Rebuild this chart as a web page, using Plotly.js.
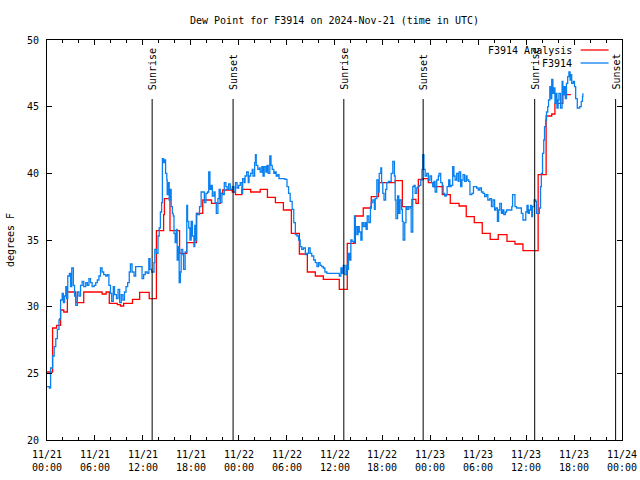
<!DOCTYPE html>
<html>
<head>
<meta charset="utf-8">
<script src="https://cdn.plot.ly/plotly-3.0.1.min.js"></script>
<style>html,body{margin:0;padding:0;background:#fff;}#chart{width:640px;height:480px;}</style>
</head>
<body>
<div id="chart"></div>
<script>
// ---- data (hours after 2024-11-21 00:00 UTC) ----
const obsHours = [0.0,0.3,0.45,0.7,0.9,1.1,1.3,1.5,1.6,1.7,1.9,2.05,2.2,2.35,2.45,2.6,2.8,2.95,3.1,3.3,3.45,3.6,3.8,4.0,4.2,4.4,4.6,4.85,5.05,5.25,5.45,5.65,5.9,6.1,6.3,6.5,6.7,6.9,7.1,7.35,7.55,7.75,7.95,8.1,8.3,8.45,8.7,8.9,9.1,9.3,9.5,9.7,9.9,10.1,10.3,10.45,10.65,10.9,11.1,11.3,11.5,11.7,11.9,12.1,12.3,12.55,12.75,12.9,13.1,13.4,13.5,13.7,13.9,14.05,14.2,14.35,14.45,14.6,14.7,14.85,15.0,15.05,15.2,15.3,15.4,15.55,15.7,15.8,15.9,16.05,16.2,16.3,16.4,16.55,16.7,16.8,17.0,17.1,17.3,17.5,17.6,17.75,17.9,18.05,18.2,18.4,18.5,18.6,18.75,18.9,19.1,19.3,19.5,19.7,19.9,20.1,20.25,20.4,20.55,20.7,20.9,21.05,21.2,21.4,21.55,21.7,21.9,22.05,22.2,22.4,22.55,22.75,22.95,23.2,23.4,23.6,23.8,24.0,24.2,24.4,24.5,24.7,24.8,25.0,25.2,25.3,25.5,25.7,25.8,26.0,26.1,26.2,26.4,26.6,26.7,26.9,27.05,27.2,27.4,27.55,27.7,27.9,28.05,28.2,28.4,28.55,28.7,28.9,29.05,29.8,30.05,30.25,30.45,30.7,30.9,31.1,31.3,31.5,31.7,31.9,32.1,32.35,32.5,32.75,32.95,33.15,33.4,33.6,33.8,34.0,34.2,34.4,34.6,34.8,35.05,36.5,36.6,36.8,36.95,37.1,37.3,37.5,37.6,37.75,37.9,38.05,38.2,38.4,38.5,38.6,38.8,38.95,39.1,39.3,39.45,39.6,39.8,39.96,40.1,40.3,40.5,40.6,40.8,41.0,41.1,41.3,41.5,41.6,41.8,41.9,42.05,42.2,42.4,42.55,42.75,42.95,43.1,43.3,43.5,43.6,43.7,43.9,44.05,44.2,44.4,44.5,44.6,44.8,44.95,45.1,45.3,45.5,45.6,45.8,45.95,46.1,46.3,46.45,46.6,46.8,46.96,47.05,47.2,47.35,47.55,47.75,47.95,48.15,48.3,48.45,48.6,48.8,49.0,49.1,49.3,49.5,49.6,49.8,50.0,50.1,50.3,50.45,50.6,50.8,50.95,51.1,51.3,51.5,51.6,51.8,51.95,52.1,52.3,52.5,52.6,52.8,52.96,53.2,53.4,53.6,53.8,54.0,54.2,54.4,54.6,54.8,55.0,55.2,55.45,55.65,55.85,56.05,56.2,56.4,56.55,56.7,56.9,57.05,57.2,57.4,57.55,58.2,58.3,58.5,58.6,58.8,59.4,59.6,59.95,60.1,60.25,60.4,60.55,60.7,60.8,61.0,61.2,61.3,61.65,61.8,61.9,62.05,62.2,62.3,62.45,62.55,62.7,62.8,62.96,63.1,63.2,63.35,63.5,63.6,63.7,63.85,64.0,64.1,64.3,64.5,64.6,64.75,64.9,65.05,65.2,65.35,65.5,65.6,65.7,65.9,66.05,66.2,66.4,66.55,66.7,66.9,67.05,67.1];
const obsDew = [24.0,23.9,25.4,26.3,27.0,27.6,28.3,29.0,29.1,30.5,31.0,30.3,30.8,31.5,30.6,32.3,32.5,31.5,32.9,31.6,30.8,30.1,31.1,30.8,31.6,31.9,31.5,31.8,31.6,32.1,31.8,31.5,31.6,31.8,32.0,32.3,32.9,32.6,32.4,32.3,32.4,31.6,31.0,30.4,31.5,30.9,30.6,31.3,30.3,30.9,30.5,31.1,31.5,31.8,32.6,33.2,32.6,32.3,33.0,33.0,33.0,33.0,32.1,32.4,32.6,32.5,33.6,32.8,32.6,33.3,34.3,34.0,35.3,35.9,37.1,37.8,41.1,40.8,41.0,40.0,39.5,38.4,39.3,38.0,38.8,37.5,37.0,36.8,35.5,34.8,35.8,33.5,34.5,31.8,32.6,34.3,33.9,32.8,34.1,37.6,36.4,35.9,35.0,36.4,35.3,34.5,36.1,35.0,37.0,36.9,37.5,38.6,38.6,37.8,38.5,38.6,40.1,38.8,39.1,38.3,38.6,37.8,37.0,38.1,38.8,37.8,38.5,38.4,39.3,39.0,38.8,39.2,38.8,39.0,38.6,39.3,38.9,39.1,39.3,38.5,39.6,39.3,39.8,40.1,39.3,39.8,40.0,40.3,39.8,40.8,41.4,40.6,40.3,40.4,40.1,40.5,39.8,40.5,40.1,40.6,40.0,41.3,40.6,40.3,40.0,40.1,39.8,39.9,39.6,39.55,39.0,38.5,37.9,37.3,36.3,35.4,35.3,35.0,34.5,34.3,34.4,33.9,34.0,34.4,34.0,33.8,33.5,33.3,33.0,33.3,33.1,33.0,32.9,32.6,32.5,32.5,32.3,32.9,32.5,33.1,32.4,33.1,32.8,34.0,33.5,35.0,34.9,34.8,36.8,36.0,35.4,36.0,35.6,35.0,36.3,36.0,36.3,35.8,36.8,36.3,37.5,37.8,38.0,37.3,38.1,39.5,38.6,40.0,40.4,39.3,38.5,38.0,38.8,39.3,39.4,39.4,40.0,40.9,39.8,38.0,36.6,38.3,37.0,38.0,37.3,36.4,35.0,36.3,37.5,37.3,37.5,37.4,35.6,39.0,39.1,38.5,38.9,39.0,39.1,39.5,40.3,41.4,40.3,39.8,40.0,39.5,39.8,39.3,39.0,39.4,38.6,39.5,39.8,40.0,39.3,39.1,38.5,38.3,38.4,39.0,39.5,39.0,39.1,40.5,39.8,39.5,40.0,39.4,40.1,39.0,39.5,39.9,39.4,39.8,39.5,39.4,38.4,38.5,39.0,39.0,38.9,38.75,38.9,38.6,38.5,38.25,38.4,38.0,38.1,37.5,38.0,37.25,37.4,36.4,37.25,37.75,37.0,37.25,36.9,37.1,37.25,37.5,38.4,38.4,37.5,37.4,37.0,36.5,37.1,37.6,37.0,37.25,37.6,36.75,37.5,38.0,37.9,37.0,37.4,39.0,40.0,41.5,42.5,43.5,44.0,44.6,45.0,45.5,46.5,45.6,47.05,46.0,46.4,45.25,46.0,44.9,45.5,46.0,44.9,46.9,45.9,46.5,45.6,46.75,47.25,47.6,47.0,47.4,46.75,46.9,46.5,45.6,44.9,44.9,45.0,45.4,45.75,46.0];

const anaHours = [0.0,0.7,1.2,1.7,2.1,2.55,3.6,4.6,6.9,7.4,7.8,8.8,9.2,9.6,10.7,11.6,12.8,13.7,14.6,14.7,15.4,16.6,17.5,18.7,19.5,20.6,21.7,22.0,23.2,23.6,24.4,25.5,26.7,27.6,28.6,29.6,30.6,31.6,32.6,33.6,34.6,36.6,37.6,38.6,39.6,40.6,41.5,43.6,44.5,45.7,46.2,46.5,47.1,47.75,48.4,49.5,50.5,51.6,52.5,53.5,54.5,55.5,56.5,57.6,58.6,59.6,61.5,62.5,63.2,63.6,64.6,65.6];
const anaDew = [25.1,28.4,28.6,29.75,29.6,31.1,30.3,31.1,30.95,31.1,30.25,30.15,30.05,30.25,30.55,31.07,30.6,35.7,36.9,38.1,35.7,34.0,34.8,37.0,38.0,37.75,38.5,38.75,38.6,38.4,38.8,38.6,38.8,38.2,37.8,37.25,35.5,33.95,32.6,32.3,32.05,31.3,34.75,36.8,37.4,38.25,39.3,39.45,37.5,38.05,37.75,39.55,39.6,39.3,39.0,38.4,37.75,37.55,36.75,36.3,35.5,35.05,35.4,34.9,34.7,34.2,39.9,44.3,44.45,45.25,45.9,45.9];

const sunTimes = ["2024-11-21 13:10","2024-11-21 23:18","2024-11-22 13:10","2024-11-22 23:06","2024-11-23 13:04","2024-11-23 23:12"];
const sunLabels = ["Sunrise","Sunset","Sunrise","Sunset","Sunrise","Sunset"];

const xTickDates = ["2024-11-21 00:00","2024-11-21 06:00","2024-11-21 12:00","2024-11-21 18:00",
                    "2024-11-22 00:00","2024-11-22 06:00","2024-11-22 12:00","2024-11-22 18:00",
                    "2024-11-23 00:00","2024-11-23 06:00","2024-11-23 12:00","2024-11-23 18:00",
                    "2024-11-24 00:00"];
const xTickText = ["11/21<br>00:00","11/21<br>06:00","11/21<br>12:00","11/21<br>18:00",
                   "11/22<br>00:00","11/22<br>06:00","11/22<br>12:00","11/22<br>18:00",
                   "11/23<br>00:00","11/23<br>06:00","11/23<br>12:00","11/23<br>18:00",
                   "11/24<br>00:00"];

const seriesNames = ["F3914 Analysis","F3914"];
const seriesColors = ["#ff0000","#0a80f0"];

// ---- helpers ----
const BASE = Date.UTC(2024,10,21);
function hToDate(h){
  const d = new Date(BASE + Math.round(h*3600000));
  return d.toISOString().slice(0,19).replace('T',' ');
}
const MONO = "DejaVu Sans Mono, Liberation Mono, monospace";
const fnt = {family: MONO, size: 10, color: "#000"};

const traces = [
  {x: anaHours.map(hToDate), y: anaDew, type: "scatter", mode: "lines",
   line: {shape: "hv", color: seriesColors[0], width: 1.3}, name: seriesNames[0], hoverinfo: "skip"},
  {x: obsHours.map(hToDate), y: obsDew, type: "scatter", mode: "lines",
   line: {shape: "hv", color: seriesColors[1], width: 1.3}, name: seriesNames[1], hoverinfo: "skip"}
];

const shapes = [];
const annotations = [];
sunTimes.forEach((t, i) => {
  shapes.push({type: "line", xref: "x", yref: "paper", x0: t, x1: t, y0: 0, y1: 0.8525,
               line: {color: "#000", width: 1}});
  annotations.push({xref: "x", yref: "paper", x: t, y: 0.87, text: sunLabels[i], textangle: -90,
                    showarrow: false, xanchor: "center", yanchor: "bottom", font: fnt});
});
// x tick labels (two lines, placed like the reference)
xTickDates.forEach((t, i) => {
  annotations.push({xref: "x", yref: "paper", x: t, y: -0.02, text: xTickText[i], showarrow: false,
                    xanchor: "center", yanchor: "top", font: fnt, borderpad: 0});
});
// legend (text at left, line sample at right as in the reference)
const legY = [0.975, 0.9425];
seriesNames.forEach((n, i) => {
  annotations.push({xref: "paper", yref: "paper", x: 0.9158, y: legY[i], text: n, showarrow: false,
                    xanchor: "right", yanchor: "middle", font: fnt});
  shapes.push({type: "line", xref: "paper", yref: "paper", x0: 0.928, x1: 0.9766, y0: legY[i], y1: legY[i],
               line: {color: seriesColors[i], width: 1.3}});
});

const layout = {
  width: 640, height: 480,
  margin: {l: 47, r: 18, t: 40, b: 40, pad: 0},
  paper_bgcolor: "#fff", plot_bgcolor: "#fff",
  showlegend: false,
  font: fnt,
  title: {text: "Dew Point for F3914 on 2024-Nov-21 (time in UTC)", font: fnt,
          xref: "paper", x: 0.5, xanchor: "center", yref: "container", y: 0.958, yanchor: "middle"},
  xaxis: {
    type: "date", range: ["2024-11-21 00:00", "2024-11-24 00:00"],
    tick0: "2024-11-21 00:00", dtick: 21600000, showticklabels: false,
    ticks: "inside", ticklen: 5, tickwidth: 1, tickcolor: "#000",
    minor: {dtick: 7200000, ticks: "inside", ticklen: 3, tickcolor: "#000", tickwidth: 1, showgrid: false},
    showline: true, linecolor: "#000", linewidth: 1, mirror: "ticks",
    showgrid: false, zeroline: false, automargin: false
  },
  yaxis: {
    range: [20, 50], dtick: 5, tick0: 20,
    ticks: "inside", ticklen: 5, tickwidth: 1, tickcolor: "#000",
    showline: true, linecolor: "#000", linewidth: 1, mirror: "ticks",
    showgrid: false, zeroline: false, tickfont: fnt, automargin: false,
    ticklabelstandoff: 5,
    title: {text: "degrees F", font: fnt, standoff: 10}
  },
  shapes: shapes,
  annotations: annotations
};

Plotly.newPlot("chart", traces, layout, {staticPlot: true, displayModeBar: false});
</script>
</body>
</html>
